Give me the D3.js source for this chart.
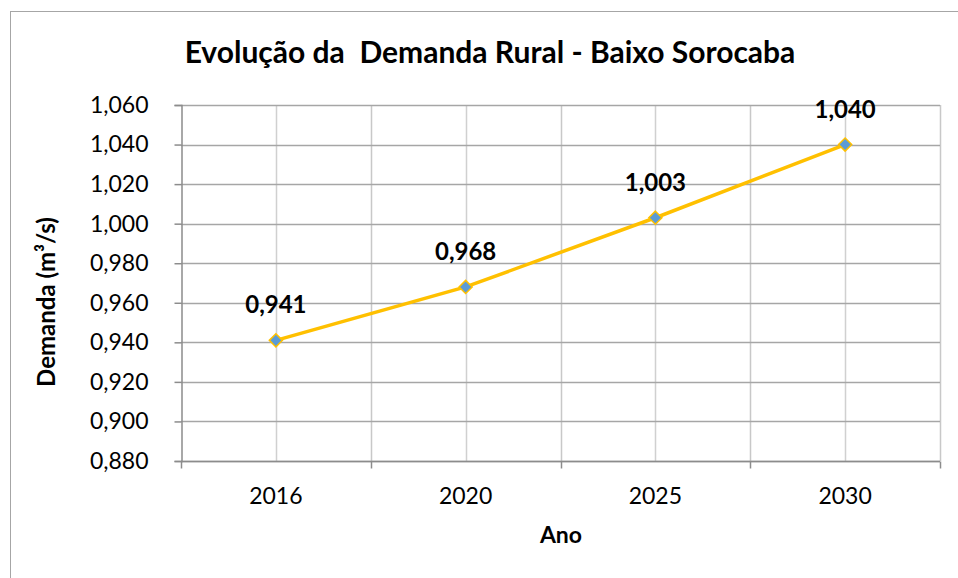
<!DOCTYPE html>
<html>
<head>
<meta charset="utf-8">
<script src="https://cdn.jsdelivr.net/npm/d3@7"></script>
<style>
  body { margin: 0; background: #fff; }
  text { font-family: Lato, "Open Sans", sans-serif; fill: #000; }
</style>
</head>
<body>
<div id="chart"></div>
<script>
var anos = ['2016', '2020', '2025', '2030']
var demanda = [0.941, 0.968, 1.003, 1.040]
var rotulos = ['0,941', '0,968', '1,003', '1,040']
var yTicks = [0.880, 0.900, 0.920, 0.940, 0.960, 0.980, 1.000, 1.020, 1.040, 1.060]

var width = 958, height = 578
var margin = {left: 181, right: 18, top: 105, bottom: 117}

var svg = d3.select('#chart').append('svg')
  .attr('width', width).attr('height', height)

// chart frame (right/bottom run off the picture)
svg.append('rect')
  .attr('x', 10.5).attr('y', 11.5).attr('width', 960).attr('height', 580)
  .attr('fill', 'none').attr('stroke', '#a6a6a6')

var x = d3.scaleBand().domain(anos)
  .range([margin.left, width - margin.right])
var y = d3.scaleLinear().domain([0.880, 1.060])
  .range([height - margin.bottom, margin.top])

var g = svg.append('g')

// vertical gridlines at centres and at band edges
var edges = anos.map(function(d){ return x(d) }).concat([x.range()[1]])
g.selectAll('line.vc').data(anos).enter().append('line')
  .attr('x1', function(d){ return Math.round(x(d) + x.bandwidth() / 2) + 0.5 })
  .attr('x2', function(d){ return Math.round(x(d) + x.bandwidth() / 2) + 0.5 })
  .attr('y1', y(1.060)).attr('y2', y(0.880))
  .attr('stroke', '#d0d0d0').attr('stroke-width', 1.5)
g.selectAll('line.ve').data(edges.slice(1)).enter().append('line')
  .attr('x1', function(d){ return Math.round(d) + 0.5 })
  .attr('x2', function(d){ return Math.round(d) + 0.5 })
  .attr('y1', y(1.060)).attr('y2', y(0.880))
  .attr('stroke', '#c8c8c8').attr('stroke-width', 1.5)

// horizontal gridlines
g.selectAll('line.h').data(yTicks).enter().append('line')
  .attr('x1', margin.left).attr('x2', width - margin.right)
  .attr('y1', function(d){ return Math.round(y(d)) + 0.5 })
  .attr('y2', function(d){ return Math.round(y(d)) + 0.5 })
  .attr('stroke', '#a6a6a6').attr('stroke-width', 1.5)

// y axis
var yAxis = d3.axisLeft(y).tickValues(yTicks).tickSize(7).tickPadding(26)
  .tickFormat(function(d){ return d3.format('.3f')(d).replace('.', ',') })
var ya = svg.append('g').attr('transform', 'translate(' + (margin.left + 0.5) + ',0)').call(yAxis)
ya.select('.domain').attr('stroke', '#8c8c8c').attr('stroke-width', 1.5)
ya.selectAll('.tick line').attr('stroke', '#8c8c8c').attr('stroke-width', 1.5)
ya.selectAll('.tick text').attr('font-size', 23).attr('font-family', 'Lato, sans-serif').attr('fill', '#000')

// x axis: ticks at band edges, labels at centres
var xa = svg.append('g').attr('transform', 'translate(0,' + (y(0.880) + 0.5) + ')')
xa.append('line').attr('x1', margin.left).attr('x2', width - margin.right)
  .attr('stroke', '#8c8c8c').attr('stroke-width', 1.5)
xa.selectAll('line.t').data(edges).enter().append('line')
  .attr('x1', function(d){ return Math.round(d) + 0.5 })
  .attr('x2', function(d){ return Math.round(d) + 0.5 })
  .attr('y1', 0).attr('y2', 7)
  .attr('stroke', '#8c8c8c').attr('stroke-width', 1.5)
xa.selectAll('text').data(anos).enter().append('text')
  .attr('x', function(d){ return x(d) + x.bandwidth() / 2 })
  .attr('y', 42)
  .attr('text-anchor', 'middle').attr('font-size', 23)
  .text(function(d){ return d })

// line and markers
var pts = anos.map(function(a, i){ return {ano: a, v: demanda[i], lab: rotulos[i]} })
var cx = function(d){ return x(d.ano) + x.bandwidth() / 2 }
var line = d3.line().x(cx).y(function(d){ return y(d.v) })

svg.append('path').datum(pts)
  .attr('d', line).attr('fill', 'none')
  .attr('stroke', '#ffc000').attr('stroke-width', 3.5)

svg.selectAll('path.m').data(pts).enter().append('path')
  .attr('d', d3.symbol().type(d3.symbolDiamond2).size(110))
  .attr('transform', function(d){ return 'translate(' + cx(d) + ',' + y(d.v) + ')' })
  .attr('fill', '#5b9bd5').attr('stroke', '#ffc000').attr('stroke-width', 1.5)

svg.selectAll('text.lab').data(pts).enter().append('text')
  .attr('x', cx).attr('y', function(d){ return y(d.v) - 27 })
  .attr('text-anchor', 'middle').attr('font-size', 24).attr('font-weight', 'bold')
  .text(function(d){ return d.lab })

// titles
svg.append('text').attr('x', 490).attr('y', 63)
  .attr('text-anchor', 'middle').attr('font-size', 30).attr('font-weight', 'bold')
  .style('white-space', 'pre')
  .text('Evolução da  Demanda Rural - Baixo Sorocaba')

svg.append('text').attr('x', 561).attr('y', 543)
  .attr('text-anchor', 'middle').attr('font-size', 23).attr('font-weight', 'bold')
  .text('Ano')

svg.append('text')
  .attr('transform', 'translate(55,' + 302 + ') rotate(-90)')
  .attr('text-anchor', 'middle').attr('font-size', 24).attr('font-weight', 'bold')
  .text('Demanda (m³/s)')
</script>
</body>
</html>
